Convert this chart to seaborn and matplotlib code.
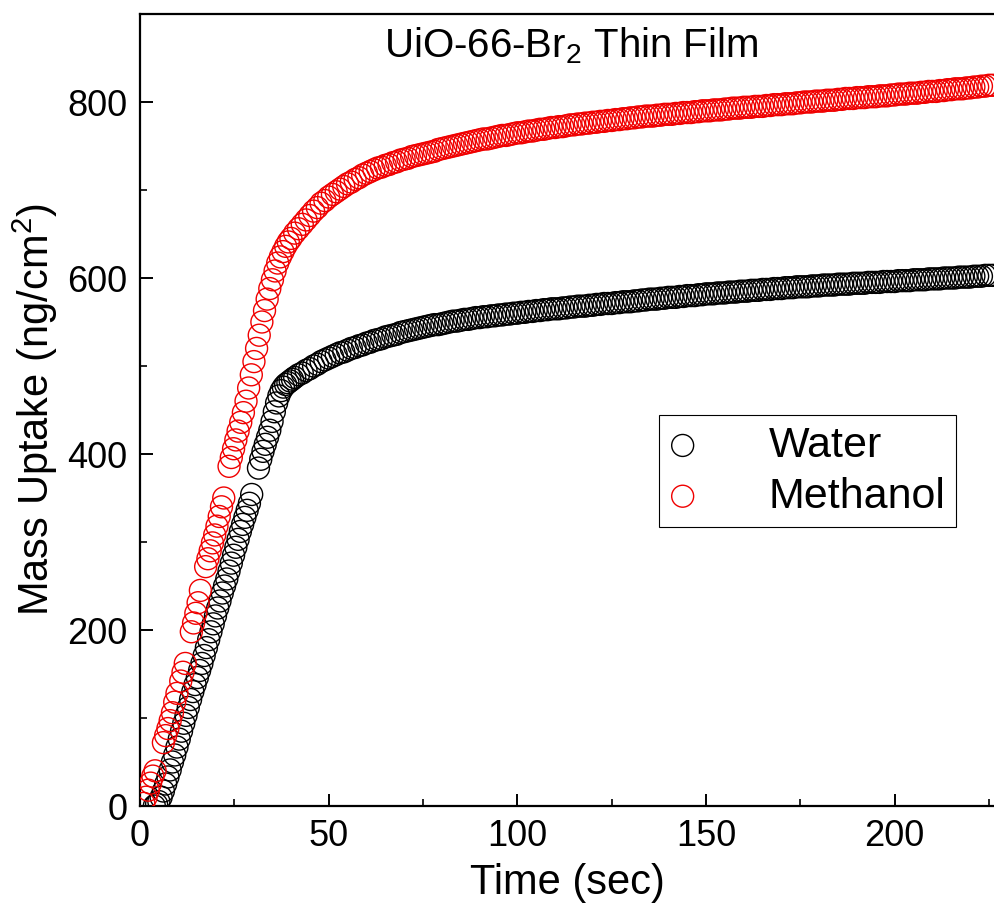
import matplotlib
matplotlib.use("Agg")
import matplotlib.pyplot as plt
import pandas as pd
import seaborn as sns
from matplotlib.ticker import MultipleLocator

# ---------------- data ----------------
water_early_time = [3.8, 4.4, 5.0, 5.6, 6.2, 6.8, 7.4, 8.0, 8.6, 9.2,
                    9.8, 10.4, 11.0, 11.6, 12.2, 12.8, 13.4, 14.0, 14.6, 15.2,
                    15.8, 16.4, 17.0, 17.6, 18.2, 18.8, 19.4, 20.0, 20.6, 21.2,
                    21.8, 22.4, 23.0, 23.6, 24.2, 24.8, 25.4, 26.0, 26.6, 27.2,
                    27.8, 28.4, 29.0, 29.6,
                    31.4, 32.0, 32.6, 33.2, 33.8, 34.4, 35.0, 35.6, 36.2, 36.8,
                    37.4, 38.0, 38.6, 39.2, 39.8, 40.4]
water_early_mass = [0, 2, 5, 10, 17, 25, 33, 41, 50, 58,
                    67, 76, 85, 94, 103, 112, 121, 130, 138, 146,
                    154, 162, 171, 180, 189, 198, 207, 216, 225, 233,
                    242, 250, 258, 267, 276, 285, 294, 303, 312, 320,
                    328, 336, 344, 354,
                    384, 394, 403, 411, 419, 427, 437, 448, 458, 466,
                    472, 476, 479, 481, 483, 485]

methanol_early_time = [1.0, 1.6, 2.2, 2.8, 3.4, 4.0,
                       6.2, 6.8, 7.4, 8.0, 8.6, 9.2, 9.8,
                       10.8, 11.4, 12.0,
                       13.6, 14.2, 14.8, 15.4, 16.0,
                       17.4, 18.0, 18.6, 19.2, 19.8, 20.4, 21.0, 21.6, 22.2,
                       23.6, 24.2, 24.8, 25.4,
                       26.0, 26.7, 27.4, 28.1, 28.8, 29.5, 30.2, 30.9, 31.6, 32.3,
                       33.0, 33.7, 34.4, 35.1, 35.8, 36.5, 37.2, 37.9, 38.6, 39.3,
                       40.0]
methanol_early_mass = [3, 10, 18, 26, 34, 40,
                       72, 80, 88, 97, 106, 118, 128,
                       142, 152, 162,
                       198, 208, 219, 231, 245,
                       272, 281, 290, 299, 308, 318, 329, 340, 350,
                       386, 396, 406, 416,
                       426, 436, 447, 460, 475, 490, 505, 520, 535, 550,
                       563, 576, 588, 598, 608, 617, 624, 630, 636, 641,
                       645]

plateau_time = [41, 42, 43, 44, 45, 46, 47, 48, 49, 50,
                51, 52, 53, 54, 55, 56, 57, 58, 59, 60,
                61, 62, 63, 64, 65, 66, 67, 68, 69, 70,
                71, 72, 73, 74, 75, 76, 77, 78, 79, 80,
                81, 82, 83, 84, 85, 86, 87, 88, 89, 90,
                91, 92, 93, 94, 95, 96, 97, 98, 99, 100,
                101, 102, 103, 104, 105, 106, 107, 108, 109, 110,
                111, 112, 113, 114, 115, 116, 117, 118, 119, 120,
                121, 122, 123, 124, 125, 126, 127, 128, 129, 130,
                131, 132, 133, 134, 135, 136, 137, 138, 139, 140,
                141, 142, 143, 144, 145, 146, 147, 148, 149, 150,
                151, 152, 153, 154, 155, 156, 157, 158, 159, 160,
                161, 162, 163, 164, 165, 166, 167, 168, 169, 170,
                171, 172, 173, 174, 175, 176, 177, 178, 179, 180,
                181, 182, 183, 184, 185, 186, 187, 188, 189, 190,
                191, 192, 193, 194, 195, 196, 197, 198, 199, 200,
                201, 202, 203, 204, 205, 206, 207, 208, 209, 210,
                211, 212, 213, 214, 215, 216, 217, 218, 219, 220,
                221, 222, 223, 224, 225, 226]

water_plateau_mass = [487, 490, 492, 495, 497, 500, 502, 505, 507, 509,
                      511, 513, 515, 516, 518, 520, 521, 523, 524, 526,
                      527, 529, 530, 531, 533, 534, 535, 536, 538, 539,
                      540, 541, 542, 543, 544, 545, 546, 547, 547, 548,
                      549, 550, 551, 551, 552, 553, 553, 554, 555, 555,
                      556, 556, 557, 557, 558, 558, 559, 559, 560, 560,
                      561, 561, 562, 562, 563, 563, 564, 564, 565, 565,
                      565, 566, 566, 567, 567, 568, 568, 568, 569, 569,
                      570, 570, 571, 571, 571, 572, 572, 573, 573, 573,
                      574, 574, 575, 575, 576, 576, 576, 577, 577, 578,
                      578, 578, 579, 579, 580, 580, 580, 581, 581, 582,
                      582, 582, 583, 583, 583, 584, 584, 584, 585, 585,
                      585, 586, 586, 586, 587, 587, 587, 588, 588, 588,
                      589, 589, 589, 590, 590, 590, 590, 591, 591, 591,
                      592, 592, 592, 592, 593, 593, 593, 593, 594, 594,
                      594, 594, 595, 595, 595, 595, 596, 596, 596, 596,
                      597, 597, 597, 597, 598, 598, 598, 598, 599, 599,
                      599, 599, 600, 600, 600, 600, 601, 601, 601, 601,
                      602, 602, 602, 603, 603, 603]

methanol_plateau_mass = [651, 656, 661, 666, 671, 676, 680, 685, 688, 692,
                         695, 698, 701, 704, 707, 709, 712, 714, 717, 719,
                         721, 723, 725, 726, 728, 729, 731, 732, 734, 735,
                         736, 738, 739, 740, 741, 742, 743, 744, 746, 747,
                         748, 749, 750, 751, 752, 753, 754, 755, 756, 757,
                         758, 758, 759, 760, 761, 762, 762, 763, 764, 765,
                         765, 766, 767, 767, 768, 769, 769, 770, 771, 771,
                         772, 772, 773, 774, 774, 775, 775, 776, 776, 777,
                         777, 778, 778, 779, 779, 780, 780, 781, 781, 782,
                         782, 783, 783, 784, 784, 784, 785, 785, 786, 786,
                         786, 787, 787, 788, 788, 788, 789, 789, 790, 790,
                         790, 791, 791, 791, 792, 792, 793, 793, 793, 794,
                         794, 794, 795, 795, 795, 796, 796, 797, 797, 797,
                         798, 798, 798, 799, 799, 800, 800, 800, 801, 801,
                         801, 802, 802, 802, 803, 803, 804, 804, 804, 805,
                         805, 805, 806, 806, 806, 807, 807, 807, 808, 808,
                         809, 809, 809, 810, 810, 810, 811, 811, 812, 812,
                         812, 813, 813, 814, 814, 815, 815, 815, 816, 816,
                         817, 817, 818, 818, 819, 819]

series_labels = ["Water", "Methanol"]
series_colors = ["#000000", "#f00000"]
title_text = "UiO-66-Br$_{\\mathrm{2}}$ Thin Film"
x_label = "Time (sec)"
y_label = "Mass Uptake (ng/cm$^{\\mathrm{2}}$)"

water = pd.DataFrame({"time": water_early_time + plateau_time,
                      "mass": water_early_mass + water_plateau_mass})
methanol = pd.DataFrame({"time": methanol_early_time + plateau_time,
                         "mass": methanol_early_mass + methanol_plateau_mass})

# ---------------- style ----------------
sns.set_theme(style="ticks")
plt.rcParams["font.family"] = ["Liberation Sans", "DejaVu Sans"]
plt.rcParams["mathtext.fontset"] = "custom"
plt.rcParams["mathtext.rm"] = "Liberation Sans"
plt.rcParams["mathtext.it"] = "Liberation Sans:italic"
plt.rcParams["mathtext.bf"] = "Liberation Sans:bold"
plt.rcParams["text.color"] = "black"
plt.rcParams["axes.labelcolor"] = "black"
plt.rcParams["xtick.color"] = "black"
plt.rcParams["ytick.color"] = "black"

W, H = 995, 908
fig = plt.figure(figsize=(W / 100, H / 100), dpi=100)
fig.patch.set_facecolor("white")
ax = fig.add_axes([140 / W, 102 / H, 855 / W, 792 / H])
ax.set_facecolor("white")

for df, lab, col in zip([water, methanol], series_labels, series_colors):
    sns.scatterplot(data=df, x="time", y="mass", ax=ax, marker="o", s=250,
                    facecolors="none", edgecolor=col, linewidths=1.0,
                    label=lab, legend=False, zorder=3)

ax.set_xlim(0, 226.6)
ax.set_ylim(0, 900)
ax.xaxis.set_major_locator(MultipleLocator(50))
ax.xaxis.set_minor_locator(MultipleLocator(25))
ax.yaxis.set_major_locator(MultipleLocator(200))
ax.yaxis.set_minor_locator(MultipleLocator(100))

ax.tick_params(which="major", direction="in", length=9, width=1.4,
               labelsize=26, pad=9, colors="black", labelcolor="black")
ax.tick_params(which="minor", direction="in", length=5, width=1.2,
               colors="black")
ax.tick_params(top=False, right=False, which="both")

for side in ["left", "bottom", "top"]:
    ax.spines[side].set_linewidth(1.6)
    ax.spines[side].set_color("black")
ax.spines["right"].set_visible(False)

ax.set_xlabel(x_label, fontsize=30, color="black")
ax.set_ylabel(y_label, fontsize=30, color="black")
ax.xaxis.set_label_coords(0.5, -0.072)
ax.yaxis.set_label_coords(-0.094, 0.5)

ax.text(0.504, 0.9457, title_text, transform=ax.transAxes, ha="center",
        va="baseline", fontsize=29, color="black")

leg = ax.legend(loc="upper left", bbox_to_anchor=(0.607, 0.4937),
                borderaxespad=0.0,
                fontsize=31, frameon=True, fancybox=False, shadow=False,
                edgecolor="black", framealpha=1, borderpad=0.25,
                handlelength=0.6, handletextpad=1.7, labelspacing=0.25)
leg.get_frame().set_linewidth(0.8)
for t in leg.get_texts():
    t.set_color("black")

fig.savefig("out.png", dpi=100, facecolor="white")
